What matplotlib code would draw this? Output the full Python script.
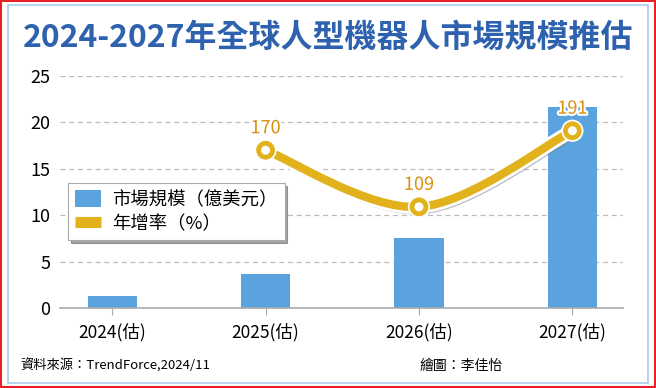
import numpy as np
import matplotlib.pyplot as plt
import matplotlib.patheffects as pe
from matplotlib.path import Path
from matplotlib.patches import PathPatch, Rectangle

plt.rcParams['font.family'] = ['Noto Sans CJK TC', 'DejaVu Sans']

# data
years = ['2024(估)', '2025(估)', '2026(估)', '2027(估)']
market = [1.3, 3.7, 7.5, 21.7]          # 億美元
growth_years = [1, 2, 3]
growth = [170, 109, 191]                # %
growth_scaled = [g / 10 for g in growth]

bar_color = '#5BA3DF'
line_color = '#E2B21C'
label_color = '#DA8E0C'

fig = plt.figure(figsize=(6.56, 3.88), dpi=100)

# frame
fig.patches.append(Rectangle((0.002, 0.003), 0.996, 0.994, transform=fig.transFigure,
                             fill=False, edgecolor='#E8202A', linewidth=1.5))
fig.patches.append(Rectangle((0.012, 0.013), 0.976, 0.974, transform=fig.transFigure,
                             fill=False, edgecolor='#A9CDEB', linewidth=1.2))

fig.text(0.5, 0.902, '2024-2027年全球人型機器人市場規模推估', ha='center', va='center',
         fontsize=23, fontweight='bold', color='#2F62AE')

ax = fig.add_axes([60 / 656, 1 - 308 / 388, 563 / 656, 232 / 388])
x = np.arange(len(years))
bars = ax.bar(x, market, width=0.32, color=bar_color, zorder=2)

# smooth curve through growth points (Catmull-Rom -> bezier)
px = np.array(growth_years, dtype=float)
py = np.array(growth_scaled)
verts = [(px[0], py[0])]
codes = [Path.MOVETO]
for i in range(len(px) - 1):
    p0 = np.array([px[max(i - 1, 0)], py[max(i - 1, 0)]])
    p1 = np.array([px[i], py[i]])
    p2 = np.array([px[i + 1], py[i + 1]])
    p3 = np.array([px[min(i + 2, len(px) - 1)], py[min(i + 2, len(px) - 1)]])
    c1 = p1 + (p2 - p0) / 6
    c2 = p2 - (p3 - p1) / 6
    verts += [tuple(c1), tuple(c2), tuple(p2)]
    codes += [Path.CURVE4] * 3
curve = PathPatch(Path(verts, codes), fill=False, edgecolor=line_color, linewidth=6,
                  capstyle='round', zorder=3,
                  path_effects=[pe.SimpleLineShadow(offset=(1.5, -2.5), shadow_color='#777777', alpha=0.5),
                                pe.Stroke(linewidth=10, foreground='white'), pe.Normal()])
ax.add_patch(curve)
ax.plot(px, py, 'o', ms=10, mfc='white', mec=line_color, mew=3.5, zorder=4,
        path_effects=[pe.Stroke(linewidth=6, foreground='white'), pe.Normal()])
line_handle, = ax.plot([], [], color=line_color, linewidth=8, solid_capstyle='butt')

for xi, yi, g in zip(px, py, growth):
    ax.text(xi, yi + 1.4, str(g), ha='center', va='bottom', fontsize=13, color=label_color,
            zorder=5, path_effects=[pe.Stroke(linewidth=3, foreground='white'), pe.Normal()])

ax.set_xlim(-0.34, 3.33)
ax.set_ylim(0, 25)
ax.set_yticks([0, 5, 10, 15, 20, 25])
ax.set_xticks(x)
ax.set_xticklabels(years)
ax.tick_params(axis='y', length=0, labelsize=13, pad=7)
ax.tick_params(axis='x', length=5, color='#AAAAAA', labelsize=12.5, pad=6)
ax.grid(axis='y', linestyle=(0, (4, 3)), color='#BBBBBB', linewidth=0.9, zorder=0)
for s in ['left', 'right', 'top']:
    ax.spines[s].set_visible(False)
ax.spines['bottom'].set_color('#AAAAAA')
ax.spines['bottom'].set_linewidth(1.2)

leg = ax.legend([bars, line_handle], ['市場規模（億美元）', '年增率（%）'],
                loc='upper left', bbox_to_anchor=(0.014, 0.539), borderaxespad=0,
                fontsize=13.2, frameon=True, fancybox=False, shadow=True, borderpad=0.4,
                handlelength=1.4, handleheight=1.0, labelspacing=0.3, handletextpad=0.6)
leg.get_frame().set_edgecolor('#AAAAAA')
leg.get_frame().set_linewidth(0.8)

fig.text(20 / 656, 1 - 366 / 388, '資料來源：TrendForce,2024/11', ha='left', va='center', fontsize=9.5)
fig.text(503 / 656, 1 - 366 / 388, '繪圖：李佳怡', ha='right', va='center', fontsize=10)

fig.savefig('out.png', dpi=100)
